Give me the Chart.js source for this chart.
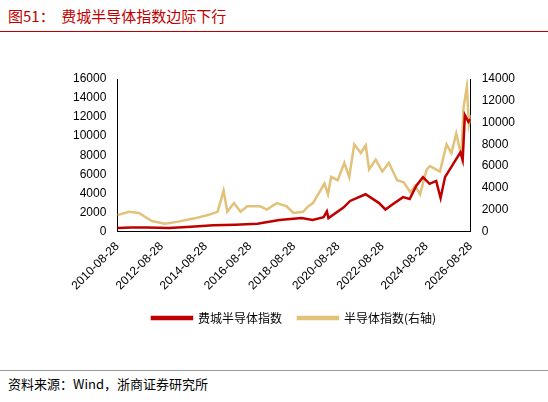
<!DOCTYPE html><html><head><meta charset="utf-8">
<script src="https://cdn.jsdelivr.net/npm/chart.js@4"></script>
<style>
body{margin:0;width:548px;height:402px;background:#fff;font-family:"Noto Sans CJK SC";position:relative;overflow:hidden}
#t{position:absolute;left:8px;top:5px;font-size:15px;color:#c00000}
#l1{position:absolute;left:0;top:31px;width:548px;border-top:1.5px solid #c00000}
#l2{position:absolute;left:0;top:370px;width:548px;border-top:1px solid #999}
#s{position:absolute;left:8px;top:374px;font-size:13px;color:#000}
#c{position:absolute;left:0;top:62px;width:548px;height:272px}
</style></head><body>
<div id="t">图51：&nbsp;&nbsp;费城半导体指数边际下行</div><div id="l1"></div>
<div id="c"><canvas id="cv"></canvas></div>
<div id="l2"></div><div id="s">资料来源：Wind，浙商证券研究所</div>
<script>
const sox_x=[2010.66,2011.3,2012,2013,2014,2015,2016,2017,2018,2019,2019.5,2020.0,2020.15,2020.22,2020.9,2021.2,2021.9,2022.5,2022.8,2023.1,2023.6,2023.9,2024.2,2024.5,2024.8,2025.1,2025.3,2025.5,2025.9,2026.2,2026.3,2026.4,2026.56,2026.66];
const sox_y=[350,420,400,350,500,650,700,800,1200,1400,1200,1500,2100,1400,2500,3200,3900,3000,2300,2800,3600,3400,4800,5700,5000,5300,3500,5700,7200,8300,7500,12200,11500,11800];
const semi_x=[2010.66,2011.18,2011.63,2012.22,2012.82,2013.42,2014.16,2014.76,2015.2,2015.47,2015.64,2015.94,2016.24,2016.54,2017.13,2017.43,2017.88,2018.33,2018.63,2019.07,2019.3,2019.52,2020.04,2020.2,2020.34,2020.64,2020.94,2021.16,2021.39,2021.69,2021.91,2022.06,2022.36,2022.66,2022.96,2023.33,2023.63,2023.93,2024.15,2024.37,2024.67,2024.82,2025.27,2025.57,2025.79,2026.01,2026.24,2026.34,2026.49,2026.58,2026.68,2026.75];
const semi_y=[1500,1800,1700,950,700,900,1200,1500,1800,3750,1800,2600,1800,2300,2300,2000,2600,2300,1700,1800,2300,2600,4400,3400,5000,4700,6300,5000,8000,7200,7900,5700,6600,5500,6300,4700,4500,3600,4200,3400,5700,6000,5500,8000,7200,9000,6900,11400,13300,9800,10700,10500];
const ticks=[2010.66,2012.66,2014.66,2016.66,2018.66,2020.66,2022.66,2024.66,2026.66];
const tickLabels=['2010-08-28','2012-08-28','2014-08-28','2016-08-28','2018-08-28','2020-08-28','2022-08-28','2024-08-28','2026-08-28'];
const f={family:'Liberation Sans',size:12};
new Chart(document.getElementById('cv'),{type:'line',data:{datasets:[
{label:'费城半导体指数',data:sox_x.map((x,i)=>({x,y:sox_y[i]})),borderColor:'#c00000',backgroundColor:'#c00000',borderWidth:2.5,pointRadius:0,yAxisID:'y',tension:0},
{label:'半导体指数(右轴)',data:semi_x.map((x,i)=>({x,y:semi_y[i]})),borderColor:'#e2c179',backgroundColor:'#e2c179',borderWidth:2.5,pointRadius:0,yAxisID:'y1',tension:0}]},
options:{animation:false,responsive:true,maintainAspectRatio:false,layout:{padding:{left:70,right:30,top:17}},
plugins:{legend:{position:'bottom',labels:{padding:16,boxWidth:40,boxHeight:2,font:{family:'Noto Sans CJK SC',size:12},color:'#000'}},tooltip:{enabled:false}},
scales:{x:{type:'linear',min:2010.66,max:2026.66,afterBuildTicks:a=>{a.ticks=ticks.map(v=>({value:v}))},ticks:{callback:(v)=>tickLabels[ticks.findIndex(t=>Math.abs(t-v)<0.01)],maxRotation:45,minRotation:45,font:f,color:'#000'},grid:{display:false,drawTicks:true,tickLength:5},border:{color:'#000'}},
y:{min:0,max:16000,ticks:{stepSize:2000,font:f,color:'#000',callback:v=>String(v)},grid:{display:false},border:{color:'#000'}},
y1:{position:'right',min:0,max:14000,ticks:{stepSize:2000,font:f,color:'#000',callback:v=>String(v)},grid:{display:false},border:{color:'#000'}}}}});
</script></body></html>
